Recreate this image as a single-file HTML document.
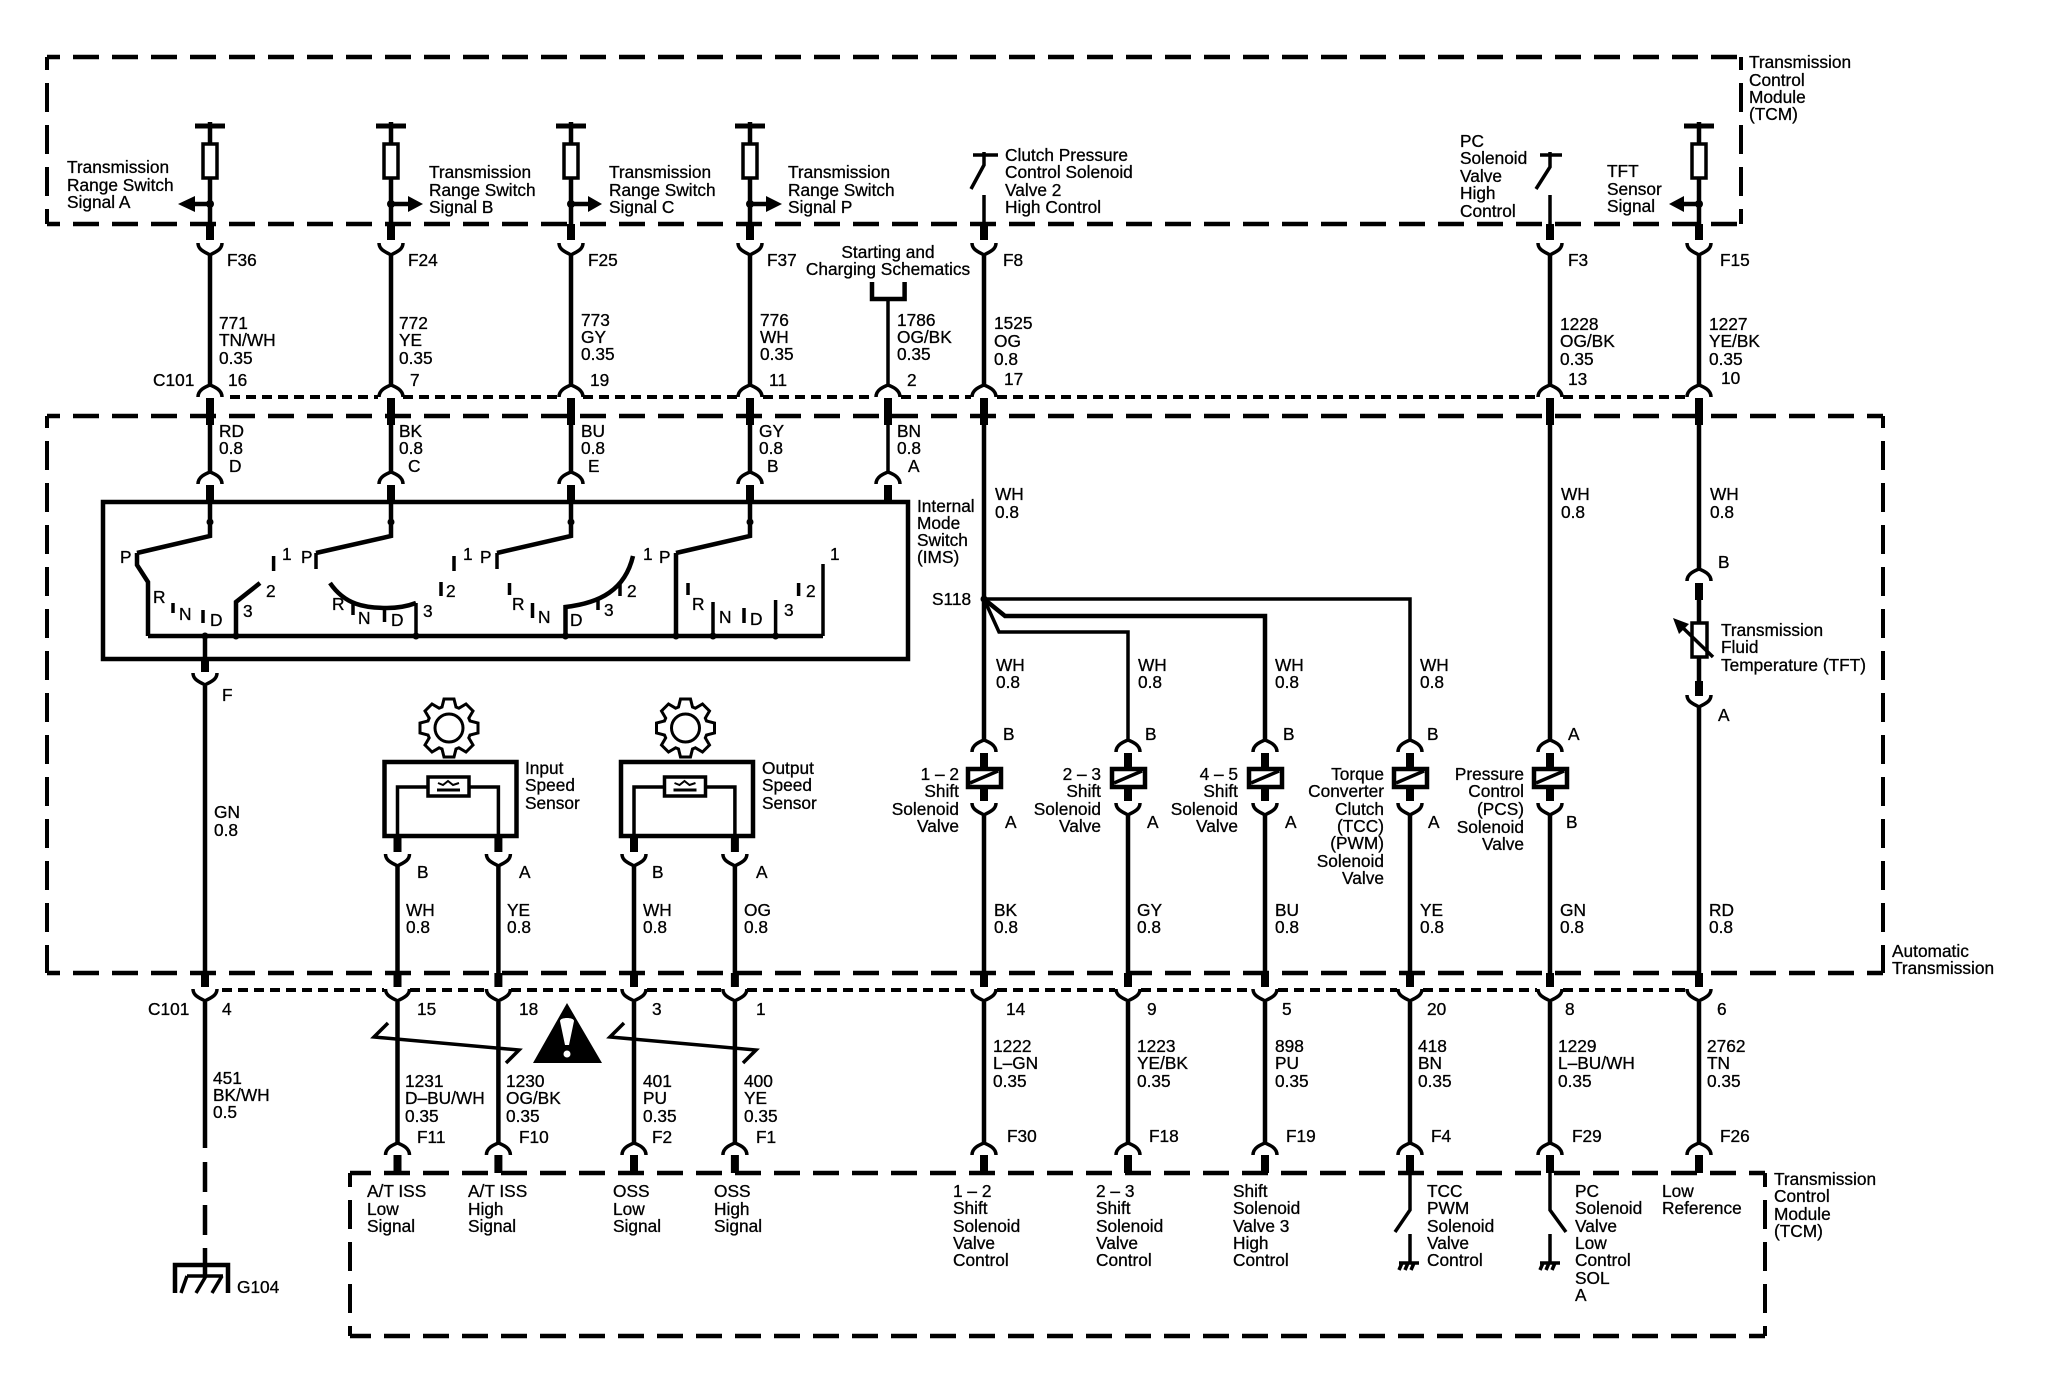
<!DOCTYPE html>
<html lang="en">
<head>
<meta charset="utf-8">
<title>Transmission wiring diagram</title>
<style>
html,body{margin:0;padding:0;background:#fff;width:2048px;height:1392px;overflow:hidden}
svg{display:block}
text{font-family:"Liberation Sans",Arial,sans-serif;font-size:17.3px;fill:#000;stroke:#000;stroke-width:.3}
.n{fill:none;stroke:#000}
.w{fill:none;stroke:#000;stroke-width:4.5}
.s{fill:none;stroke:#000;stroke-width:3.5}
.t{fill:none;stroke:#000;stroke-width:8}
.d{fill:none;stroke:#000;stroke-width:4.5;stroke-dasharray:26 13}
.v{fill:none;stroke:#000;stroke-width:4;stroke-dasharray:29 13}
.o{fill:none;stroke:#000;stroke-width:4;stroke-dasharray:10 6}
.e{text-anchor:end}
.m{text-anchor:middle}
</style>
</head>
<body>
<svg width="2048" height="1392" viewBox="0 0 2048 1392" xmlns="http://www.w3.org/2000/svg">
<defs>
<path id="c" class="s" d="M-12,0C-12,7 -5,9 0,12C5,9 12,7 12,0"/>
<path id="a" class="s" d="M-12,12C-12,5 -5,2 0,0C5,2 12,5 12,12"/>
<g id="fuse">
<path class="w" d="M0,122V224"/>
<path class="n" stroke-width="5" d="M-15,126H15"/>
<rect x="-7" y="144" width="14" height="34" fill="#fff" stroke="#000" stroke-width="3.5"/>
<path class="t" d="M0,224V240"/>
</g>
<g id="upper">
<use href="#c" y="243"/>
<path class="w" d="M0,254V386M0,398V472"/>
<use href="#a" y="385"/>
<path class="t" d="M0,398V425M0,485V502"/>
<use href="#a" y="472"/>
</g>
<g id="mid">
<use href="#c" y="243"/>
<path class="w" d="M0,254V386M0,398V741"/>
<use href="#a" y="385"/>
<path class="t" d="M0,398V425"/>
</g>
<g id="sol">
<use href="#a" y="740"/>
<path class="t" d="M0,753V801"/>
<rect x="-16" y="769" width="33" height="18" fill="#fff" stroke="#000" stroke-width="4.5"/>
<path class="s" d="M-14,783L14,771"/>
<use href="#c" y="803"/>
</g>
<g id="low">
<path class="w" d="M0,1002V1144"/>
<use href="#c" y="989"/>
<use href="#a" y="1143"/>
<path class="t" d="M0,973V987M0,1155V1173"/>
</g>
<polygon id="gear" fill="none" stroke="#000" stroke-width="3" points="-7,-21 -5,-29 5,-29 7,-21 9.9,-19.8 17,-24 24,-17 19.8,-9.9 21,-7 29,-5 29,5 21,7 19.8,9.9 24,17 17,24 9.9,19.8 7,21 5,29 -5,29 -7,21 -9.9,19.8 -17,24 -24,17 -19.8,9.9 -21,7 -29,5 -29,-5 -21,-7 -19.8,-9.9 -24,-17 -17,-24 -9.9,-19.8"/>
<g id="sensor">
<use href="#gear" x="449" y="728"/>
<circle cx="449" cy="728" r="14" fill="none" stroke="#000" stroke-width="3"/>
<rect x="384.5" y="762" width="132" height="74" fill="none" stroke="#000" stroke-width="4.5"/>
<path class="s" d="M397.5,836V787H428M469,787H498.4V836"/>
<rect x="428" y="777" width="41" height="19" fill="#fff" stroke="#000" stroke-width="3.5"/>
<path class="n" stroke-width="3" d="M437,790H460"/>
<path class="n" stroke-width="2" d="M438,783L443,785L448,781L453,785L459,783"/>
<path class="t" d="M397.5,836V852M498.4,836V852"/>
<use href="#c" x="397.5" y="854"/>
<use href="#c" x="498.4" y="854"/>
<path class="w" d="M397.5,866V987M498.4,866V987"/>
<use href="#low" x="397.5"/>
<use href="#low" x="498.4"/>
</g>
<g id="gnd">
<path class="s" d="M-10,0H10M-7,0L-10,7M-1,0L-4,7M5,0L2,7"/>
</g>
</defs>

<!-- dashed boxes -->
<path class="d" stroke-dashoffset="13" d="M47,57H1741"/>
<path class="v" stroke-dashoffset="16" d="M47,57V224"/>
<path class="d" stroke-dashoffset="13" d="M47,224H1741"/>
<path class="v" stroke-dashoffset="16" d="M1741,57V224"/>

<path class="d" stroke-dashoffset="13" d="M47,416H1883"/>
<path class="v" stroke-dashoffset="17" d="M47,416V973"/>
<path class="v" stroke-dashoffset="17" d="M1883,416V973"/>
<path class="d" stroke-dashoffset="13" d="M47,973H1883"/>

<path class="d" stroke-dashoffset="5" d="M350,1173H1765"/>
<path class="v" stroke-dashoffset="15" d="M350,1173V1336"/>
<path class="v" stroke-dashoffset="15" d="M1765,1173V1336"/>
<path class="d" stroke-dashoffset="5" d="M350,1336H1765"/>

<!-- dotted C101 lines -->
<path class="o" d="M230,397H378M403,397H558M583,397H738M763,397H875M901,397H971M997,397H1537M1563,397H1686"/>
<path class="o" d="M222,990H384M410,990H485M511,990H621M647,990H721M747,990H971M997,990H1115M1141,990H1252M1278,990H1397M1423,990H1537M1563,990H1686"/>

<!-- top signal wires -->
<use href="#fuse" x="210"/><use href="#upper" x="210"/>
<use href="#fuse" x="391"/><use href="#upper" x="391"/>
<use href="#fuse" x="571"/><use href="#upper" x="571"/>
<use href="#fuse" x="750"/><use href="#upper" x="750"/>
<path class="w" d="M210,502V536L137,553M391,502V536L316,553M571,502V536L497,553M750,502V536L676,553"/>
<path class="w" d="M195,204H210M391,204H408M571,204H588M750,204H766"/>
<polygon points="178,204 195,196 195,212"/>
<polygon points="423,204 408,196 408,212"/>
<polygon points="602,204 588,196 588,212"/>
<polygon points="782,204 766,196 766,212"/>
<circle cx="210" cy="204" r="4"/><circle cx="391" cy="204" r="4"/><circle cx="571" cy="204" r="4"/><circle cx="750" cy="204" r="4"/>

<!-- starting & charging -->
<path class="w" d="M872,282V299H904.6V282"/>
<path class="s" d="M888,299V386M888,398V472"/>
<use href="#a" x="888" y="385"/><use href="#a" x="888" y="472"/>
<path class="t" d="M888,398V425M888,485V502"/>

<!-- clutch pressure switch -->
<path class="s" d="M973,155H998M984,152V165L971,189M984,195V224"/>
<path class="t" d="M984,224V240"/>
<use href="#mid" x="984"/>
<!-- PC switch -->
<path class="s" d="M1540,155H1562M1550,152V167L1536,189M1550,195V224"/>
<path class="t" d="M1550,224V240"/>
<use href="#mid" x="1550"/>
<!-- TFT -->
<use href="#fuse" x="1699"/>
<use href="#c" x="1699" y="243"/>
<path class="w" d="M1683,204H1699M1699,254V386M1699,398V570"/>
<polygon points="1669,204 1684,196 1684,212"/>
<circle cx="1699" cy="204" r="4"/>
<use href="#a" x="1699" y="385"/>
<path class="t" d="M1699,398V425"/>
<use href="#a" x="1699" y="569"/>
<path class="t" d="M1699,583V600M1699,681V696"/>
<path class="w" d="M1699,600V623M1699,657V681M1699,706V973"/>
<rect x="1692" y="623" width="15" height="34" fill="#fff" stroke="#000" stroke-width="3.5"/>
<path class="s" d="M1713,657L1680,625"/>
<polygon points="1673,618 1689,624 1679,634"/>
<use href="#c" x="1699" y="695"/>
<use href="#low" x="1699"/>

<!-- S118 -->
<circle cx="984" cy="599" r="3.5"/>
<path class="s" d="M984,599H1410V741"/>
<path class="w" d="M984,599L1005,616H1265V741"/>
<path class="s" d="M984,599L999,632H1128V741"/>

<!-- solenoid wires -->
<use href="#sol" x="984"/><use href="#sol" x="1128"/><use href="#sol" x="1265"/><use href="#sol" x="1410"/><use href="#sol" x="1550"/>
<path class="w" d="M984,815V987M1128,815V987M1265,815V987M1410,815V987M1550,815V987"/>
<use href="#low" x="984"/><use href="#low" x="1128"/><use href="#low" x="1265"/><use href="#low" x="1410"/><use href="#low" x="1550"/>

<!-- lower switches -->
<path class="s" d="M1410,1173V1210L1395,1232M1410,1234V1263"/>
<use href="#gnd" x="1409" y="1263"/>
<path class="s" d="M1550,1173V1210L1566,1232M1550,1234V1263"/>
<use href="#gnd" x="1550" y="1263"/>

<!-- IMS box -->
<rect x="103" y="502" width="805" height="157" fill="none" stroke="#000" stroke-width="4.5"/>
<circle cx="210" cy="522" r="3.5"/><circle cx="391" cy="522" r="3.5"/><circle cx="571" cy="522" r="3.5"/><circle cx="750" cy="522" r="3.5"/>
<path class="w" d="M148,636H823"/>
<path class="w" d="M137,553V565L148,582V636M676,553V636"/>
<path class="w" d="M236,636V602L260,583"/>
<path class="s" d="M316,553V569M497,553V569"/>
<path class="w" d="M330,583C345,605 365,608 387,608C398,608 408,606 416,603"/>
<path class="s" d="M416,603V636"/>
<path class="w" d="M565.5,636V607C600,603 625,590 633,556"/>
<path class="s" d="M173,603V613M203,610V623M273.6,556V571M353,604V615M384.5,610V622M441,582V596M454,556V571M509.5,583V595M532.5,603V618M598,600V610M620,583V596M688,583V595M713,602V636M744,608V623M775.6,600V636M798.6,583V596M823,564V636"/>
<circle cx="205" cy="636" r="3.5"/><circle cx="236" cy="636" r="3.5"/><circle cx="416" cy="636" r="3.5"/><circle cx="565.5" cy="636" r="3.5"/><circle cx="676" cy="636" r="3.5"/><circle cx="713" cy="636" r="3.5"/><circle cx="775.6" cy="636" r="3.5"/>

<!-- GN wire + ground -->
<path class="w" d="M205,636V659"/>
<path class="t" d="M205,659V672M205,973V987"/>
<use href="#c" x="205" y="673"/>
<path class="w" d="M205,686V973"/>
<use href="#c" x="205" y="989"/>
<path class="w" d="M205,1002V1148M205,1162V1192M205,1205V1235M205,1248V1276"/>
<path class="w" d="M175,1293V1265H228V1293"/>
<path class="n" stroke-width="3.5" d="M187,1276H223M187,1276L181,1293M206,1276L196,1293M222,1276L212,1293"/>

<!-- sensors -->
<use href="#sensor"/>
<use href="#sensor" x="236.5"/>

<!-- break lines & warning -->
<path class="s" d="M388,1023L374,1037L519,1050L506,1063"/>
<path class="s" d="M624,1023L610,1037L756,1050L743,1063"/>
<polygon points="567,1003 602,1063 533,1063"/>
<path fill="#fff" d="M560,1021C560,1017 574,1017 574,1021L569,1045H565Z"/>
<circle cx="567" cy="1054" r="3.5" fill="#fff"/>

<!-- TEXT: top labels -->
<text x="67" y="173">Transmission</text><text x="67" y="191">Range Switch</text><text x="67" y="208">Signal A</text>
<text x="429" y="178">Transmission</text><text x="429" y="196">Range Switch</text><text x="429" y="213">Signal B</text>
<text x="609" y="178">Transmission</text><text x="609" y="196">Range Switch</text><text x="609" y="213">Signal C</text>
<text x="788" y="178">Transmission</text><text x="788" y="196">Range Switch</text><text x="788" y="213">Signal P</text>
<text x="1005" y="161">Clutch Pressure</text><text x="1005" y="178">Control Solenoid</text><text x="1005" y="196">Valve 2</text><text x="1005" y="213">High Control</text>
<text x="1460" y="147">PC</text><text x="1460" y="164">Solenoid</text><text x="1460" y="182">Valve</text><text x="1460" y="199">High</text><text x="1460" y="217">Control</text>
<text x="1607" y="177">TFT</text><text x="1607" y="195">Sensor</text><text x="1607" y="212">Signal</text>
<text x="1749" y="68">Transmission</text><text x="1749" y="86">Control</text><text x="1749" y="103">Module</text><text x="1749" y="120">(TCM)</text>

<!-- F labels top -->
<text x="227" y="266">F36</text><text x="408" y="266">F24</text><text x="588" y="266">F25</text><text x="767" y="266">F37</text><text x="1003" y="266">F8</text><text x="1568" y="266">F3</text><text x="1720" y="266">F15</text>
<text x="888" y="258" class="m">Starting and</text><text x="888" y="275" class="m">Charging Schematics</text>

<!-- wire ids -->
<text x="219" y="329">771</text><text x="219" y="346">TN/WH</text><text x="219" y="364">0.35</text>
<text x="399" y="329">772</text><text x="399" y="346">YE</text><text x="399" y="364">0.35</text>
<text x="581" y="326">773</text><text x="581" y="343">GY</text><text x="581" y="360">0.35</text>
<text x="760" y="326">776</text><text x="760" y="343">WH</text><text x="760" y="360">0.35</text>
<text x="897" y="326">1786</text><text x="897" y="343">OG/BK</text><text x="897" y="360">0.35</text>
<text x="994" y="329">1525</text><text x="994" y="347">OG</text><text x="994" y="365">0.8</text>
<text x="1560" y="330">1228</text><text x="1560" y="347">OG/BK</text><text x="1560" y="365">0.35</text>
<text x="1709" y="330">1227</text><text x="1709" y="347">YE/BK</text><text x="1709" y="365">0.35</text>

<!-- C101 top -->
<text x="153" y="386">C101</text><text x="228" y="386">16</text><text x="410" y="386">7</text><text x="590" y="386">19</text><text x="769" y="386">11</text><text x="907" y="386">2</text><text x="1004" y="385">17</text><text x="1568" y="385">13</text><text x="1721" y="384">10</text>

<text x="219" y="437">RD</text><text x="219" y="454">0.8</text><text x="229" y="472">D</text>
<text x="399" y="437">BK</text><text x="399" y="454">0.8</text><text x="408" y="472">C</text>
<text x="581" y="437">BU</text><text x="581" y="454">0.8</text><text x="588" y="472">E</text>
<text x="759" y="437">GY</text><text x="759" y="454">0.8</text><text x="767" y="472">B</text>
<text x="897" y="437">BN</text><text x="897" y="454">0.8</text><text x="908" y="472">A</text>

<text x="995" y="500">WH</text><text x="995" y="518">0.8</text>
<text x="1561" y="500">WH</text><text x="1561" y="518">0.8</text>
<text x="1710" y="500">WH</text><text x="1710" y="518">0.8</text>

<text x="917" y="512">Internal</text><text x="917" y="529">Mode</text><text x="917" y="546">Switch</text><text x="917" y="563">(IMS)</text>

<!-- IMS contacts -->
<text x="120" y="563">P</text><text x="282" y="560">1</text><text x="301" y="563">P</text><text x="463" y="560">1</text><text x="480" y="563">P</text><text x="643" y="560">1</text><text x="659" y="563">P</text><text x="830" y="560">1</text>
<text x="266" y="597">2</text><text x="446" y="597">2</text><text x="627" y="597">2</text><text x="806" y="597">2</text>
<text x="153" y="603">R</text><text x="179" y="620">N</text><text x="210" y="626">D</text><text x="243" y="617">3</text>
<text x="332" y="610">R</text><text x="358" y="624">N</text><text x="391" y="626">D</text><text x="423" y="617">3</text>
<text x="512" y="610">R</text><text x="538" y="623">N</text><text x="570" y="626">D</text><text x="604" y="616">3</text>
<text x="692" y="610">R</text><text x="719" y="623">N</text><text x="750" y="625">D</text><text x="784" y="616">3</text>

<text x="932" y="605">S118</text>
<text x="1718" y="568">B</text><text x="1718" y="721">A</text>
<text x="1721" y="636">Transmission</text><text x="1721" y="653">Fluid</text><text x="1721" y="671">Temperature (TFT)</text>
<text x="222" y="701">F</text>

<!-- WH row -->
<text x="996" y="671">WH</text><text x="996" y="688">0.8</text>
<text x="1138" y="671">WH</text><text x="1138" y="688">0.8</text>
<text x="1275" y="671">WH</text><text x="1275" y="688">0.8</text>
<text x="1420" y="671">WH</text><text x="1420" y="688">0.8</text>

<text x="1003" y="740">B</text><text x="1145" y="740">B</text><text x="1283" y="740">B</text><text x="1427" y="740">B</text><text x="1568" y="740">A</text>
<text x="1005" y="828">A</text><text x="1147" y="828">A</text><text x="1285" y="828">A</text><text x="1428" y="828">A</text><text x="1566" y="828">B</text>

<!-- solenoid labels -->
<text x="959" y="780" class="e">1 – 2</text><text x="959" y="797" class="e">Shift</text><text x="959" y="815" class="e">Solenoid</text><text x="959" y="832" class="e">Valve</text>
<text x="1101" y="780" class="e">2 – 3</text><text x="1101" y="797" class="e">Shift</text><text x="1101" y="815" class="e">Solenoid</text><text x="1101" y="832" class="e">Valve</text>
<text x="1238" y="780" class="e">4 – 5</text><text x="1238" y="797" class="e">Shift</text><text x="1238" y="815" class="e">Solenoid</text><text x="1238" y="832" class="e">Valve</text>
<text x="1384" y="780" class="e">Torque</text><text x="1384" y="797" class="e">Converter</text><text x="1384" y="815" class="e">Clutch</text><text x="1384" y="832" class="e">(TCC)</text><text x="1384" y="849" class="e">(PWM)</text><text x="1384" y="867" class="e">Solenoid</text><text x="1384" y="884" class="e">Valve</text>
<text x="1524" y="780" class="e">Pressure</text><text x="1524" y="797" class="e">Control</text><text x="1524" y="815" class="e">(PCS)</text><text x="1524" y="833" class="e">Solenoid</text><text x="1524" y="850" class="e">Valve</text>

<!-- sensor labels -->
<text x="525" y="774">Input</text><text x="525" y="791">Speed</text><text x="525" y="809">Sensor</text>
<text x="762" y="774">Output</text><text x="762" y="791">Speed</text><text x="762" y="809">Sensor</text>
<text x="417" y="878">B</text><text x="519" y="878">A</text><text x="652" y="878">B</text><text x="756" y="878">A</text>

<text x="406" y="916">WH</text><text x="406" y="933">0.8</text>
<text x="507" y="916">YE</text><text x="507" y="933">0.8</text>
<text x="643" y="916">WH</text><text x="643" y="933">0.8</text>
<text x="744" y="916">OG</text><text x="744" y="933">0.8</text>
<text x="994" y="916">BK</text><text x="994" y="933">0.8</text>
<text x="1137" y="916">GY</text><text x="1137" y="933">0.8</text>
<text x="1275" y="916">BU</text><text x="1275" y="933">0.8</text>
<text x="1420" y="916">YE</text><text x="1420" y="933">0.8</text>
<text x="1560" y="916">GN</text><text x="1560" y="933">0.8</text>
<text x="1709" y="916">RD</text><text x="1709" y="933">0.8</text>
<text x="214" y="818">GN</text><text x="214" y="836">0.8</text>

<text x="1892" y="957">Automatic</text><text x="1892" y="974">Transmission</text>

<!-- C101 bottom -->
<text x="148" y="1015">C101</text><text x="222" y="1015">4</text><text x="417" y="1015">15</text><text x="519" y="1015">18</text><text x="652" y="1015">3</text><text x="756" y="1015">1</text>
<text x="1006" y="1015">14</text><text x="1147" y="1015">9</text><text x="1282" y="1015">5</text><text x="1427" y="1015">20</text><text x="1565" y="1015">8</text><text x="1717" y="1015">6</text>

<text x="213" y="1084">451</text><text x="213" y="1101">BK/WH</text><text x="213" y="1118">0.5</text>
<text x="405" y="1087">1231</text><text x="405" y="1104">D–BU/WH</text><text x="405" y="1122">0.35</text>
<text x="506" y="1087">1230</text><text x="506" y="1104">OG/BK</text><text x="506" y="1122">0.35</text>
<text x="643" y="1087">401</text><text x="643" y="1104">PU</text><text x="643" y="1122">0.35</text>
<text x="744" y="1087">400</text><text x="744" y="1104">YE</text><text x="744" y="1122">0.35</text>
<text x="993" y="1052">1222</text><text x="993" y="1069">L–GN</text><text x="993" y="1087">0.35</text>
<text x="1137" y="1052">1223</text><text x="1137" y="1069">YE/BK</text><text x="1137" y="1087">0.35</text>
<text x="1275" y="1052">898</text><text x="1275" y="1069">PU</text><text x="1275" y="1087">0.35</text>
<text x="1418" y="1052">418</text><text x="1418" y="1069">BN</text><text x="1418" y="1087">0.35</text>
<text x="1558" y="1052">1229</text><text x="1558" y="1069">L–BU/WH</text><text x="1558" y="1087">0.35</text>
<text x="1707" y="1052">2762</text><text x="1707" y="1069">TN</text><text x="1707" y="1087">0.35</text>

<text x="417" y="1143">F11</text><text x="519" y="1143">F10</text><text x="652" y="1143">F2</text><text x="756" y="1143">F1</text>
<text x="1007" y="1142">F30</text><text x="1149" y="1142">F18</text><text x="1286" y="1142">F19</text><text x="1431" y="1142">F4</text><text x="1572" y="1142">F29</text><text x="1720" y="1142">F26</text>

<!-- lower box labels -->
<text x="367" y="1197">A/T ISS</text><text x="367" y="1215">Low</text><text x="367" y="1232">Signal</text>
<text x="468" y="1197">A/T ISS</text><text x="468" y="1215">High</text><text x="468" y="1232">Signal</text>
<text x="613" y="1197">OSS</text><text x="613" y="1215">Low</text><text x="613" y="1232">Signal</text>
<text x="714" y="1197">OSS</text><text x="714" y="1215">High</text><text x="714" y="1232">Signal</text>
<text x="953" y="1197">1 – 2</text><text x="953" y="1214">Shift</text><text x="953" y="1232">Solenoid</text><text x="953" y="1249">Valve</text><text x="953" y="1266">Control</text>
<text x="1096" y="1197">2 – 3</text><text x="1096" y="1214">Shift</text><text x="1096" y="1232">Solenoid</text><text x="1096" y="1249">Valve</text><text x="1096" y="1266">Control</text>
<text x="1233" y="1197">Shift</text><text x="1233" y="1214">Solenoid</text><text x="1233" y="1232">Valve 3</text><text x="1233" y="1249">High</text><text x="1233" y="1266">Control</text>
<text x="1427" y="1197">TCC</text><text x="1427" y="1214">PWM</text><text x="1427" y="1232">Solenoid</text><text x="1427" y="1249">Valve</text><text x="1427" y="1266">Control</text>
<text x="1575" y="1197">PC</text><text x="1575" y="1214">Solenoid</text><text x="1575" y="1232">Valve</text><text x="1575" y="1249">Low</text><text x="1575" y="1266">Control</text><text x="1575" y="1284">SOL</text><text x="1575" y="1301">A</text>
<text x="1662" y="1197">Low</text><text x="1662" y="1214">Reference</text>
<text x="1774" y="1185">Transmission</text><text x="1774" y="1202">Control</text><text x="1774" y="1220">Module</text><text x="1774" y="1237">(TCM)</text>
<text x="237" y="1293">G104</text>
</svg>
</body>
</html>
